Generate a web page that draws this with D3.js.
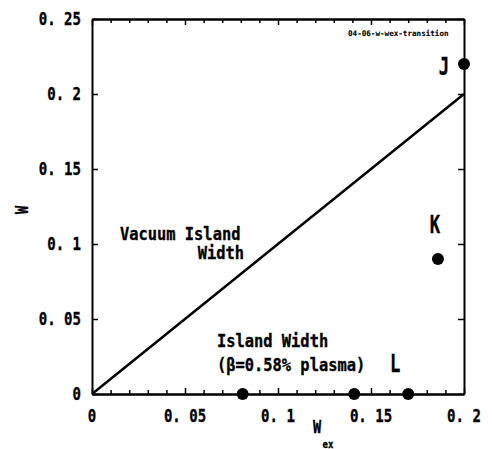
<!DOCTYPE html>
<html>
<meta charset="utf-8">
<head>
  <script src="https://d3js.org/d3.v7.min.js"></script>
  <style>
    body { margin: 0; background: #fff; }
    text { font-family: "DejaVu Sans Mono", "Liberation Mono", monospace; font-weight: bold; fill: #000; stroke: #000; stroke-width: 0.35px; }
  </style>
</head>
<body>
<div id="chart"></div>
<script>

// data
var xTicks = [0, 0.05, 0.1, 0.15, 0.2];
var xTickLabels = ["0", "0. 05", "0. 1", "0. 15", "0. 2"];
var yTicks = [0, 0.05, 0.1, 0.15, 0.2, 0.25];
var yTickLabels = ["0", "0. 05", "0. 1", "0. 15", "0. 2", "0. 25"];
var xMinor = [0.01, 0.02, 0.03, 0.04, 0.06, 0.07, 0.08, 0.09, 0.11, 0.12, 0.13, 0.14, 0.16, 0.17, 0.18, 0.19];

// vacuum island width line (W = Wex)
var vacWex = [0, 0.2];
var vacW = [0, 0.2];

// measured island widths
var ptWex = [0.2, 0.186, 0.081, 0.141, 0.17];
var ptW = [0.22, 0.09, 0, 0, 0];

// case labels
var caseNames = ["J", "K", "L"];
var caseWex = [0.2, 0.186, 0.17];
var caseW = [0.22, 0.09, 0];

var width = 492, height = 449;
var margin = {top: 19, right: 28, bottom: 55, left: 92};

var svg = d3.select("#chart").append("svg")
    .attr("width", width)
    .attr("height", height);

var x = d3.scaleLinear().domain([0, 0.2]).range([margin.left, width - margin.right]);
var y = d3.scaleLinear().domain([0, 0.25]).range([height - margin.bottom, margin.top]);

// helper for squeezed (half-width style) text
function txt(x0, y0, s, size, sx, anchor) {
  return svg.append("text")
    .attr("transform", "translate(" + x0 + "," + y0 + ") scale(" + sx + ",1)")
    .attr("text-anchor", anchor || "start")
    .style("font-size", size + "px")
    .text(s);
}

// axes: inward ticks, no labels from d3
function styleAxis(g) {
  g.selectAll("path").attr("stroke", "#000").attr("stroke-width", 2);
  g.selectAll("line").attr("stroke", "#000").attr("stroke-width", 1.5);
  g.selectAll("text").remove();
}

var y0 = y(0), y1 = y(0.25), x0 = x(0), x1 = x(0.2);

svg.append("g").attr("transform", "translate(0," + y0 + ")")
  .call(d3.axisBottom(x).tickValues(xTicks).tickSize(-6).tickSizeOuter(0).tickFormat(""))
  .call(styleAxis);
svg.append("g").attr("transform", "translate(0," + y0 + ")")
  .call(d3.axisBottom(x).tickValues(xMinor).tickSize(-4).tickSizeOuter(0).tickFormat(""))
  .call(styleAxis);
svg.append("g").attr("transform", "translate(0," + y1 + ")")
  .call(d3.axisTop(x).tickValues(xTicks).tickSize(-6).tickSizeOuter(0).tickFormat(""))
  .call(styleAxis);
svg.append("g").attr("transform", "translate(0," + y1 + ")")
  .call(d3.axisTop(x).tickValues(xMinor).tickSize(-4).tickSizeOuter(0).tickFormat(""))
  .call(styleAxis);
svg.append("g").attr("transform", "translate(" + x0 + ",0)")
  .call(d3.axisLeft(y).tickValues(yTicks).tickSize(-6).tickSizeOuter(0).tickFormat(""))
  .call(styleAxis);
svg.append("g").attr("transform", "translate(" + x1 + ",0)")
  .call(d3.axisRight(y).tickValues(yTicks).tickSize(-6).tickSizeOuter(0).tickFormat(""))
  .call(styleAxis);

// tick labels
xTicks.forEach(function(v, i) {
  txt(x(v), y0 + 28, xTickLabels[i], 18, 0.78, "middle");
});
yTicks.forEach(function(v, i) {
  txt(x0 - 11, y(v) + 6, yTickLabels[i], 18, 0.78, "end");
});

// axis titles
svg.append("text")
  .attr("transform", "translate(28,210) rotate(-90) scale(0.8,1)")
  .attr("text-anchor", "middle")
  .style("font-size", "17px")
  .text("W");
txt(317, 433, "W", 17, 0.8, "middle");
txt(328, 448, "ex", 10, 0.9, "middle");

// vacuum island width line
var line = d3.line()
  .x(function(d, i) { return x(vacWex[i]); })
  .y(function(d, i) { return y(vacW[i]); });
svg.append("path")
  .datum(vacWex)
  .attr("d", line)
  .attr("fill", "none")
  .attr("stroke", "#000")
  .attr("stroke-width", 2.5);

// points
svg.append("g").selectAll("circle")
  .data(ptWex)
  .enter().append("circle")
    .attr("cx", function(d) { return x(d); })
    .attr("cy", function(d, i) { return y(ptW[i]); })
    .attr("r", 6)
    .attr("fill", "#000");

// case labels J K L
var caseDx = [-20, -3, -13];
var caseDy = [11, -26, -22];
caseNames.forEach(function(n, i) {
  txt(x(caseWex[i]) + caseDx[i], y(caseW[i]) + caseDy[i], n, 24, 0.72, "middle");
});

// annotations
txt(120, 240, "Vacuum Island", 17.5, 0.88, "start");
txt(244, 259, "Width", 17.5, 0.88, "end");
txt(217, 347, "Island Width", 17.5, 0.88, "start");
txt(217, 371, "(\u03b2=0.58% plasma)", 17.5, 0.88, "start");

// file tag
svg.append("text")
  .attr("x", 348).attr("y", 36)
  .style("font-size", "7.6px")
  .style("stroke-width", "0.1px")
  .text("04-06-w-wex-transition");

</script>
</body>
</html>
